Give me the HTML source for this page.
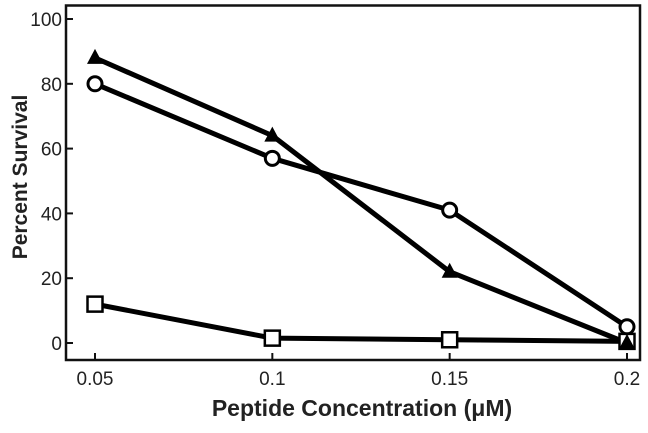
<!DOCTYPE html>
<html><head><style>
body{margin:0;background:#fff;}
svg text{font-family:"Liberation Sans",Arial,sans-serif;fill:#222;}
</style></head><body>
<svg id="chart" width="648" height="428" xmlns="http://www.w3.org/2000/svg">
<rect x="66" y="5.5" width="574" height="354.5" fill="none" stroke="#111" stroke-width="2.5"/>
<g id="axes"></g>
<g id="series"></g>
<text x="362" y="416" text-anchor="middle" font-size="23" font-weight="bold">Peptide Concentration (μM)</text>
<text transform="translate(27,177) rotate(-90)" text-anchor="middle" font-size="21" font-weight="bold">Percent Survival</text>
</svg>
<script>
const xCats=[0.05,0.1,0.15,0.2];
const xTickLabels=["0.05","0.1","0.15","0.2"];
const yTicks=[0,20,40,60,80,100];
const triangleVals=[88,64,22,0];
const circleVals=[80,57,41,5];
const squareVals=[12,1.5,1,0.5];
const NS="http://www.w3.org/2000/svg";
function xs(v){return 95+(v-0.05)/0.15*(627-95);}
function ys(v){return 343-v*3.24;}
const axes=document.getElementById('axes'),ser=document.getElementById('series');
function mk(t,a,p){const e=document.createElementNS(NS,t);for(const k in a)e.setAttribute(k,a[k]);p.appendChild(e);return e;}
yTicks.forEach(v=>{
 const l=mk('line',{x1:66,x2:73,y1:ys(v),y2:ys(v),stroke:'#111','stroke-width':2},axes);
 
 
 const t=mk('text',{x:62,y:ys(v)+7,'text-anchor':'end','font-size':19},axes);t.textContent=v;
 
 
});
xCats.forEach((v,i)=>{
 const l=mk('line',{x1:xs(v),x2:xs(v),y1:360,y2:353,stroke:'#111','stroke-width':2},axes);
 
 
 const t=mk('text',{x:xs(v),y:385,'text-anchor':'middle','font-size':19},axes);t.textContent=xTickLabels[i];
 
 
});
function line(vals,name){
 const pts=vals.map((v,i)=>xs(xCats[i])+','+ys(v)).join(' ');
 const p=mk('polyline',{points:pts,fill:'none',stroke:'#000','stroke-width':5,'stroke-linejoin':'round'},ser);
 
 
}
line(squareVals,'square-series-line');
line(circleVals,'circle-series-line');
line(triangleVals,'triangle-series-line');
squareVals.forEach((v,i)=>{
 const r=mk('rect',{x:xs(xCats[i])-7.5,y:ys(v)-7.5,width:15,height:15,fill:'#fff',stroke:'#000','stroke-width':2.5},ser);
 
 
});
circleVals.forEach((v,i)=>{
 const c=mk('circle',{cx:xs(xCats[i]),cy:ys(v),r:7,fill:'#fff',stroke:'#000','stroke-width':3},ser);
 
 
});
triangleVals.forEach((v,i)=>{
 const x=xs(xCats[i]),y=ys(v);
 const t=mk('polygon',{points:`${x},${y-9} ${x-8},${y+6} ${x+8},${y+6}`,fill:'#000'},ser);
 
 
});
</script>
</body></html>
